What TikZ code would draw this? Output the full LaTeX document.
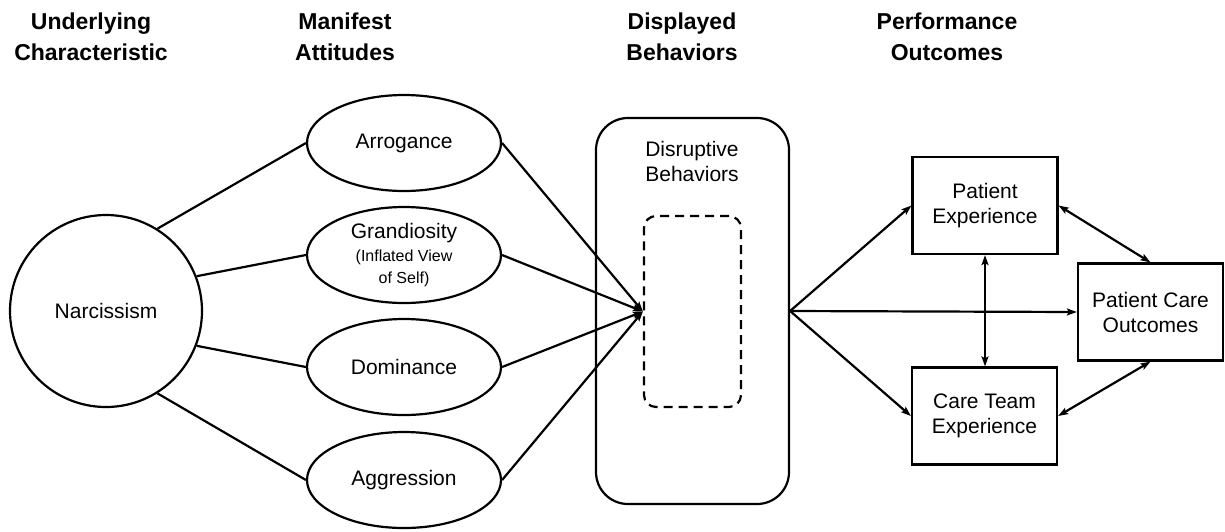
\documentclass[tikz,border=0pt]{standalone}
\usepackage{fontspec}
\setmainfont{Liberation Sans}
\usetikzlibrary{shapes.geometric,arrows.meta}
\tikzset{
  ln/.style={line width=2.2pt},
  arr/.style={ln,-{Stealth[length=10pt,width=7pt,inset=2pt]}},
  darr/.style={ln,{Stealth[length=10pt,width=7pt,inset=2pt]}-{Stealth[length=10pt,width=7pt,inset=2pt]}},
  hdr/.style={align=center,font=\fontsize{23}{31}\selectfont\bfseries,inner sep=0pt},
  txt/.style={align=center,font=\fontsize{21}{25}\selectfont,inner sep=0pt},
  circ/.style={draw,ln,circle,minimum size=192pt,inner sep=0pt,txt},
  ell/.style={draw,ln,ellipse,minimum width=194pt,minimum height=96pt,inner sep=0pt,txt},
  bigbox/.style={draw,ln,rectangle,rounded corners=32pt,minimum width=193pt,minimum height=386pt},
  dbox/.style={draw,ln,dashed,dash pattern=on 9pt off 6pt,rectangle,rounded corners=12pt,minimum width=97pt,minimum height=191pt},
  sbox/.style={draw,ln,rectangle,minimum width=145pt,minimum height=97pt,inner sep=0pt,txt}
}
\begin{document}
\begin{tikzpicture}[x=1pt,y=-1pt]
\useasboundingbox (0,0) rectangle (1225,531);
% headers
\node[hdr] (h1) at (91,37) {Underlying\\Characteristic};
\node[hdr] (h2) at (345,37) {Manifest\\Attitudes};
\node[hdr] (h3) at (682,37) {Displayed\\Behaviors};
\node[hdr] (h4) at (947,37) {Performance\\Outcomes};
% left
\node[circ] (N) at (106,311) {Narcissism};
\node[ell] (A1) at (404,143) {Arrogance};
\node[ell] (A2) at (404,255) {Grandiosity\\[-2pt]{\fontsize{16}{19}\selectfont (Inflated View}\\[-3pt]{\fontsize{16}{19}\selectfont of Self)}};
\node[ell] (A3) at (404,367) {Dominance};
\node[ell] (A4) at (404,480) {Aggression};
% middle
\node[bigbox] (DB) at (692.5,311) {};
\node[txt] (DBt) at (692,161) {Disruptive\\Behaviors};
\node[dbox] (DD) at (692.5,311.5) {};
% right
\node[sbox] (PE) at (985,205.5) {Patient\\Experience};
\node[sbox] (CT) at (984.5,416) {Care Team\\Experience};
\node[sbox] (PC) at (1150.5,312) {Patient Care\\Outcomes};
% connectors
\draw[ln] (N.58) -- (A1.west);
\draw[ln] (N.21) -- (A2.west);
\draw[ln] (N.-21) -- (A3.west);
\draw[ln] (N.-58) -- (A4.west);
\foreach \a in {A1,A2,A3,A4}{\draw[arr] (\a.east) -- (DD.west);}
\draw[arr] (DB.east) -- (PE.west);
\draw[arr] (DB.east) -- (CT.west);
\draw[arr] (DB.east) -- (PC.west);
\draw[darr] (PE.south) -- (PE.south |- CT.north);
\draw[darr] (PE.east) -- (PC.north);
\draw[darr] (CT.east) -- (PC.south);
\end{tikzpicture}
\end{document}
